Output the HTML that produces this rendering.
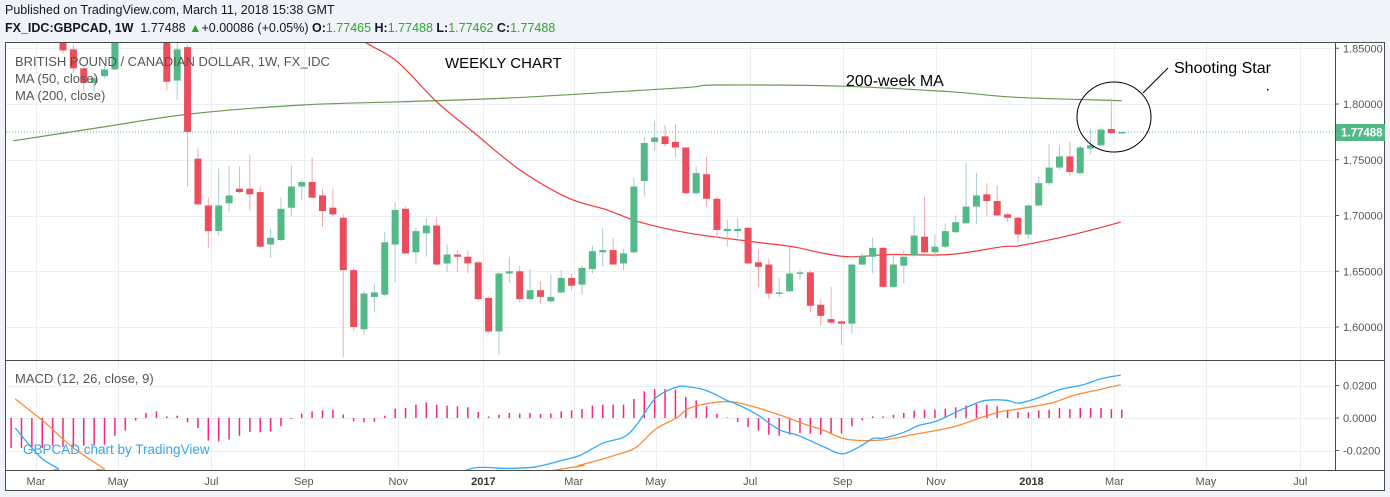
<!DOCTYPE html>
<html><head><meta charset="utf-8">
<style>
html,body{margin:0;padding:0;background:#f0f3fa;width:1390px;height:497px;overflow:hidden;font-family:"Liberation Sans",Arial,sans-serif}
#hdr1{position:absolute;left:5px;top:3px;font-size:12.5px;color:#131722}
#hdr2{position:absolute;left:5px;top:21px;font-size:12.5px;color:#131722;white-space:nowrap}
.g{color:#2ea52e}
b{font-weight:bold}
svg{position:absolute;left:0;top:0}
</style></head>
<body>
<div id="hdr1">Published on TradingView.com, March 11, 2018 15:38 GMT</div>
<div id="hdr2"><b>FX_IDC:GBPCAD, 1W</b>&nbsp; 1.77488 <span class="g">▲</span>+0.00086 (+0.05%) <b>O:</b><span class="g">1.77465</span> <b>H:</b><span class="g">1.77488</span> <b>L:</b><span class="g">1.77462</span> <b>C:</b><span class="g">1.77488</span></div>
<svg id="chart" width="1390" height="497"></svg>
<script>
// ---- data ----
const opens=[1.862,1.849,1.832,1.819,1.825,1.831,1.880,1.865,1.880,1.870,1.875,1.821,1.851,1.751,1.709,1.686,1.711,1.724,1.724,1.721,1.674,1.678,1.707,1.726,1.730,1.718,1.707,1.698,1.651,1.598,1.627,1.629,1.674,1.706,1.667,1.684,1.691,1.657,1.665,1.663,1.658,1.626,1.596,1.648,1.650,1.625,1.633,1.623,1.631,1.644,1.638,1.652,1.667,1.669,1.657,1.667,1.731,1.766,1.771,1.766,1.761,1.720,1.737,1.715,1.686,1.686,1.689,1.658,1.656,1.630,1.632,1.648,1.649,1.620,1.607,1.605,1.603,1.656,1.663,1.671,1.636,1.655,1.664,1.681,1.667,1.672,1.685,1.693,1.708,1.719,1.713,1.701,1.698,1.683,1.709,1.729,1.743,1.753,1.738,1.760,1.763,1.7776,1.77465];
const highs=[1.868,1.853,1.834,1.828,1.834,1.865,1.890,1.890,1.895,1.890,1.880,1.855,1.853,1.761,1.716,1.742,1.745,1.744,1.754,1.726,1.688,1.716,1.745,1.732,1.752,1.724,1.724,1.701,1.653,1.632,1.639,1.685,1.712,1.708,1.689,1.698,1.699,1.674,1.669,1.669,1.659,1.627,1.649,1.663,1.655,1.652,1.641,1.647,1.651,1.648,1.655,1.673,1.689,1.680,1.670,1.734,1.770,1.785,1.781,1.782,1.761,1.744,1.753,1.717,1.696,1.698,1.690,1.669,1.661,1.644,1.672,1.652,1.651,1.625,1.636,1.606,1.657,1.666,1.680,1.672,1.665,1.669,1.700,1.717,1.683,1.693,1.700,1.747,1.738,1.729,1.727,1.703,1.699,1.710,1.735,1.764,1.763,1.766,1.763,1.778,1.779,1.805,1.77488];
const lows=[1.845,1.828,1.811,1.811,1.823,1.830,1.854,1.858,1.862,1.865,1.812,1.804,1.726,1.709,1.671,1.682,1.703,1.720,1.704,1.671,1.662,1.677,1.700,1.714,1.715,1.690,1.699,1.573,1.597,1.593,1.613,1.628,1.640,1.665,1.657,1.663,1.655,1.649,1.649,1.648,1.624,1.595,1.575,1.640,1.622,1.624,1.621,1.622,1.630,1.632,1.629,1.648,1.654,1.656,1.651,1.666,1.717,1.758,1.762,1.752,1.719,1.719,1.708,1.680,1.672,1.677,1.656,1.636,1.625,1.627,1.631,1.642,1.613,1.601,1.603,1.584,1.594,1.655,1.648,1.635,1.635,1.639,1.663,1.666,1.663,1.671,1.684,1.693,1.692,1.700,1.699,1.694,1.676,1.679,1.708,1.727,1.741,1.735,1.737,1.755,1.762,1.773,1.77462];
const closes=[1.848,1.832,1.819,1.823,1.831,1.855,1.865,1.880,1.870,1.885,1.820,1.849,1.775,1.710,1.686,1.709,1.718,1.721,1.719,1.672,1.680,1.706,1.726,1.730,1.716,1.704,1.701,1.651,1.600,1.630,1.631,1.676,1.705,1.666,1.686,1.691,1.656,1.665,1.663,1.657,1.625,1.596,1.648,1.650,1.625,1.633,1.627,1.627,1.644,1.637,1.653,1.668,1.669,1.656,1.666,1.726,1.765,1.770,1.764,1.761,1.720,1.738,1.715,1.687,1.688,1.688,1.657,1.654,1.630,1.631,1.648,1.649,1.619,1.610,1.604,1.603,1.656,1.664,1.671,1.636,1.656,1.663,1.682,1.667,1.672,1.686,1.694,1.708,1.718,1.713,1.700,1.698,1.683,1.709,1.729,1.743,1.753,1.739,1.761,1.763,1.777,1.774,1.77488];
const ma50Idx=[26.7,29.2,32.2,36.0,39.5,44.0,48.6,52.4,55.6,60.4,66.9,70.3,73.3,75.9,79.8,85.4,90.5,92.2,96.9,101.9];
const ma50Val=[1.872,1.855,1.838,1.802,1.775,1.741,1.716,1.705,1.694,1.684,1.676,1.672,1.666,1.663,1.665,1.665,1.672,1.673,1.682,1.694];
const ma200Idx=[-4.8,3.6,12.2,22.8,32.5,42.1,51.7,60.4,63,75,85.4,91.8,102];
const ma200Val=[1.767,1.779,1.791,1.799,1.802,1.805,1.810,1.815,1.817,1.816,1.811,1.806,1.803];
const histStart=-5;
const histVals=[-0.0185,-0.0185,-0.0185,-0.0185,-0.017,-0.0178,-0.0178,-0.017,-0.017,-0.0164,
-0.0109,-0.0078,-0.0016,0.0031,0.0041,0.001,0.0014,-0.0027,-0.0062,-0.0139,-0.0144,-0.0133,-0.0109,-0.0086,-0.0088,-0.0082,-0.0051,-0.0006,0.0027,0.0041,0.0047,0.0051,0.0021,-0.002,-0.0027,-0.0023,0.0014,0.0057,0.0062,0.0082,0.0096,0.0082,0.0076,0.0072,0.0066,0.0037,0.001,0.002,0.0031,0.0027,0.0031,0.0025,0.0027,0.0041,0.0047,0.0055,0.0076,0.0082,0.0082,0.0082,0.0117,0.0164,0.0178,0.0178,0.0174,0.0129,0.0109,
0.0072,0.0027,0.0003,-0.0025,-0.0055,-0.0078,-0.0103,-0.0109,-0.0103,-0.0092,-0.0096,-0.0103,-0.0096,-0.0096,-0.0051,-0.0014,0.001,0.001,0.002,0.0031,0.0045,0.0051,0.0051,0.0057,0.0066,0.0076,0.0086,0.0082,0.0072,0.0051,0.0037,0.0035,0.0047,0.0051,0.0062,0.0055,0.0062,0.0062,0.0062,0.0055,0.0051];
const macdIdx=[-4.6,-2.2,-0.5,0.3,20,36.3,39.1,43,45.6,48.1,49.8,52,54.1,55.4,57.1,59.1,60.4,62.1,63.9,65.1,66.9,69,70.9,73.3,75.1,76.8,78,79.1,81,82.4,84.1,86.2,88,89,90.9,92.1,93.9,96,98.3,100,101.9];
const macdVal=[-0.0062,-0.024,-0.031,-0.036,-0.06,-0.045,-0.0315,-0.031,-0.030,-0.026,-0.023,-0.0155,-0.0115,-0.003,0.0123,0.019,0.0191,0.0166,0.011,0.008,0.002,-0.0072,-0.0109,-0.0178,-0.022,-0.0174,-0.0127,-0.0123,-0.0088,-0.0047,-0.002,0.0041,0.0092,0.0109,0.0109,0.0092,0.0123,0.0174,0.0205,0.0242,0.0264];
const sigIdx=[-4.6,-1.7,0.8,3.9,4.5,20,47.5,49.8,53.3,55.2,57.1,59.1,60.4,63,64.7,66.4,69,71.6,73.3,75.2,77.2,79.3,81.9,84.5,86.2,88.8,90.5,92.2,95.3,97.4,100,101.9];
const sigVal=[0.0117,-0.003,-0.0174,-0.031,-0.034,-0.06,-0.032,-0.029,-0.0227,-0.018,-0.0068,0,0.0062,0.0098,0.0098,0.0072,0.002,-0.0041,-0.0076,-0.0127,-0.0139,-0.0133,-0.0102,-0.0072,-0.0047,0.001,0.0041,0.0057,0.0094,0.014,0.0177,0.0205];
const priceTicks=[1.60,1.65,1.70,1.75,1.80,1.85];
const priceTickLabels=["1.60000","1.65000","1.70000","1.75000","1.80000","1.85000"];
const macdTicks=[-0.02,0,0.02];
const macdTickLabels=["-0.0200","0.0000","0.0200"];
const timeTickIdx=[-2.6,5.3,14.3,23.2,32.3,40.5,49.2,57.1,66.2,75.1,84.1,93.3,101.3,110.1,119.2];
const timeTickLabels=["Mar","May","Jul","Sep","Nov","2017","Mar","May","Jul","Sep","Nov","2018","Mar","May","Jul"];
const lastPrice=1.77488;

// ---- scales ----
const X0=63, STEP=10.38;
const xs=i=>X0+i*STEP;
const yP=p=>104-(p-1.80)*1115;
const yM=v=>418-v*1625;
const L=6,R=1335,T=43,PB=360,MB=470;
const NS="http://www.w3.org/2000/svg";
const svg=document.getElementById('chart');
function el(tag,attrs,parent){const e=document.createElementNS(NS,tag);for(const k in attrs)e.setAttribute(k,attrs[k]);(parent||svg).appendChild(e);return e;}

let bg=el('rect',{x:5.5,y:42.5,width:1379,height:448,fill:'#fff',stroke:'#4a4a4a','stroke-width':1});


const defs=el('defs',{});
const c1=el('clipPath',{id:'cpMain'},defs);el('rect',{x:L,y:T,width:R-L,height:PB-T},c1);
const c2=el('clipPath',{id:'cpMacd'},defs);el('rect',{x:L,y:PB+1,width:R-L,height:MB-PB-1},c2);

const grid=el('g',{stroke:'#e9eff3','stroke-width':1});


timeTickIdx.forEach(t=>{const x=Math.round(xs(t))+0.5;el('line',{x1:x,x2:x,y1:T,y2:MB},grid);});
priceTicks.forEach(p=>{const y=Math.round(yP(p))+0.5;el('line',{x1:L,x2:R,y1:y,y2:y},grid);});
macdTicks.forEach(v=>{const y=Math.round(yM(v))+0.5;el('line',{x1:L,x2:R,y1:y,y2:y},grid);});

const main=el('g',{'clip-path':'url(#cpMain)'});


function poly(idx,val,fy,color,parent,name,w){
  const P=idx.map((t,k)=>[xs(t),fy(val[k])]);
  let d='M'+P[0][0].toFixed(1)+','+P[0][1].toFixed(1);
  for(let k=0;k<P.length-1;k++){
    const p0=P[Math.max(0,k-1)],p1=P[k],p2=P[k+1],p3=P[Math.min(P.length-1,k+2)];
    const c1x=p1[0]+(p2[0]-p0[0])/6,c1y=p1[1]+(p2[1]-p0[1])/6;
    const c2x=p2[0]-(p3[0]-p1[0])/6,c2y=p2[1]-(p3[1]-p1[1])/6;
    d+=' C'+c1x.toFixed(1)+','+c1y.toFixed(1)+' '+c2x.toFixed(1)+','+c2y.toFixed(1)+' '+p2[0].toFixed(1)+','+p2[1].toFixed(1);
  }
  const p=el('path',{d:d,fill:'none',stroke:color,'stroke-width':w||1.2},parent);
  
  
}
poly(ma200Idx,ma200Val,yP,'#6a9a4f',main,'ma200-line',1.2);
const ly=yP(lastPrice);
let dl=el('line',{x1:L,x2:R,y1:ly,y2:ly,stroke:'#53b987','stroke-width':1,'stroke-dasharray':'1,2'},main);


poly(ma50Idx,ma50Val,yP,'#f0393b',main,'ma50-line',1.2);
opens.forEach((o,i)=>{
  const c=closes[i],up=c>=o,x=xs(i);
  const g=el('g',{},main);
  
  
  el('line',{x1:x,x2:x,y1:yP(highs[i]),y2:yP(lows[i]),stroke:up?'#a6ccd3':'#f7a9b0','stroke-width':1},g);
  const t=yP(Math.max(o,c)),b=yP(Math.min(o,c));
  el('rect',{x:x-3.5,y:t,width:7,height:Math.max(1.5,b-t),fill:up?'#53b987':'#eb4d5c'},g);
});

function txt(s,a,name,parent){const t=el('text',a,parent);t.textContent=s;return t;}
txt('BRITISH POUND / CANADIAN DOLLAR, 1W, FX_IDC',{x:15,y:66,'font-size':13,fill:'#555'},'chart-title');
txt('MA (50, close)',{x:15,y:83,'font-size':13,fill:'#555'},'ma50-legend');
txt('MA (200, close)',{x:15,y:100,'font-size':13,fill:'#555'},'ma200-legend');
txt('WEEKLY CHART',{x:445,y:68,'font-size':15,fill:'#000'},'weekly-chart-label');
txt('200-week MA',{x:846,y:86,'font-size':16,fill:'#000'},'ma200-annotation');
txt('Shooting Star',{x:1174,y:73,'font-size':16,fill:'#000'},'shooting-star-label');
let ell=el('ellipse',{cx:1114,cy:117,rx:37,ry:35,fill:'none',stroke:'#000','stroke-width':1});


let pl=el('line',{x1:1143,y1:93,x2:1168,y2:68,stroke:'#000','stroke-width':1});


el('rect',{x:1267,y:89,width:1.5,height:1.5,fill:'#000'});

const pax=el('g',{});


el('line',{x1:R+0.5,x2:R+0.5,y1:T,y2:MB,stroke:'#4a4a4a'},pax);
priceTicks.forEach((p,k)=>{const y=yP(p);el('line',{x1:R,x2:R+4,y1:y,y2:y,stroke:'#555'},pax);
  txt(priceTickLabels[k],{x:1343,y:y+4,'font-size':11,fill:'#555'},'price-tick-label',pax);});
let pb=el('rect',{x:R+1,y:ly-8,width:49,height:17,fill:'#53b987'},pax);


txt(lastPrice.toFixed(5),{x:1341,y:ly+4.5,'font-size':11.5,fill:'#fff','font-weight':'bold'},'last-price-label',pax);

el('line',{x1:L,x2:1385,y1:PB+0.5,y2:PB+0.5,stroke:'#4a4a4a'});

const mp=el('g',{'clip-path':'url(#cpMacd)'});


histVals.forEach((v,k)=>{const x=xs(histStart+k);const h=el('line',{x1:x,x2:x,y1:yM(0),y2:yM(v),stroke:'#ff2277','stroke-width':1.5},mp);
  
  });
poly(sigIdx,sigVal,yM,'#ff8a33',mp,'signal-line',1.3);
poly(macdIdx,macdVal,yM,'#33aaf5',mp,'macd-line',1.3);
txt('MACD (12, 26, close, 9)',{x:15,y:383,'font-size':13,fill:'#555'},'macd-legend');
txt('GBPCAD chart by TradingView',{x:23,y:454,'font-size':13.5,fill:'#3aa6e8'},'watermark');
macdTicks.forEach((v,k)=>{const y=yM(v);el('line',{x1:R,x2:R+4,y1:y,y2:y,stroke:'#555'});
  txt(macdTickLabels[k],{x:1343,y:y+4,'font-size':11,fill:'#555'},'macd-tick-label');});

el('line',{x1:L,x2:1385,y1:MB+0.5,y2:MB+0.5,stroke:'#4a4a4a'});
const tax=el('g',{});


timeTickIdx.forEach((t,k)=>{const x=xs(t);const bold=/^\d/.test(timeTickLabels[k]);
  txt(timeTickLabels[k],{x:x,y:485,'font-size':11,fill:bold?'#333':'#555','font-weight':bold?'bold':'normal','text-anchor':'middle'},'time-tick-label',tax);});
</script>
</body></html>
